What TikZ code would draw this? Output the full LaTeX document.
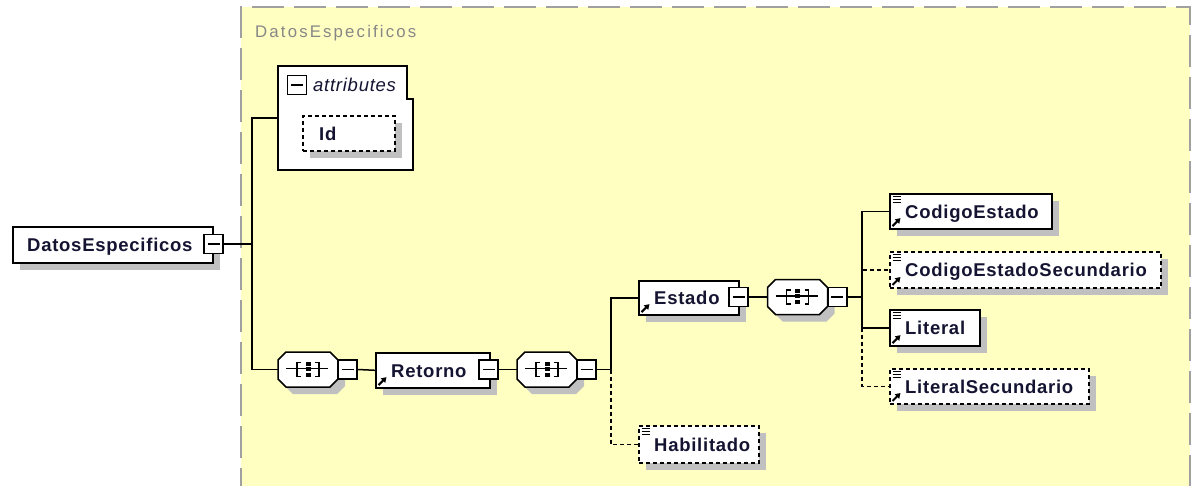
\documentclass[tikz,border=0pt]{standalone}
\usepackage{fontspec}
\setmainfont{Liberation Sans}
\newfontfamily\lblfont[LetterSpace=4]{Liberation Sans}
\newfontfamily\ttlfont[LetterSpace=12.8]{Liberation Sans}
\usetikzlibrary{shadows,arrows.meta,calc}
\definecolor{bgyellow}{RGB}{255,255,194}
\definecolor{shadowgray}{RGB}{192,192,192}
\definecolor{bordergray}{RGB}{160,160,160}
\definecolor{titlegray}{RGB}{135,135,135}
\definecolor{txt}{RGB}{20,20,50}
\tikzset{
  shad/.style={general shadow={fill=shadowgray, shadow xshift=7pt, shadow yshift=-7pt}},
  ebox/.style={draw, line width=1.6pt, fill=white, rectangle, inner sep=0pt, anchor=north west, shad},
  optbox/.style={ebox, line width=1.5pt, dash pattern=on 4pt off 3pt},
  lbl/.style={anchor=base west, inner sep=0pt, text=txt, font=\lblfont\bfseries\fontsize{18.5}{22}\selectfont},
  mnode/.style={draw, fill=white, line width=1.8pt, minimum size=19pt, inner sep=0pt,
    path picture={\draw[line width=1.5pt] ([xshift=3.5pt]path picture bounding box.west) -- ([xshift=-3.5pt]path picture bounding box.east);}},
  conn/.style={line width=1.5pt},
  dconn/.style={line width=1.5pt, dash pattern=on 4pt off 3pt},
  icn/.style={line width=1.2pt},
  licn/.style={line width=0.8pt},
}
\newcommand\octpath{(-30,-9.5) -- (-22,-17.5) -- (22,-17.5) -- (30,-9.5) -- (30,9.5) -- (22,17.5) -- (-22,17.5) -- (-30,9.5) -- cycle}
\newcommand\seqbox[4]{%
  \begin{scope}[shift={(#2,#3)}]
    \fill[shadowgray, shift={(7,7)}] \octpath;
    \filldraw[fill=white, line width=1.5pt] \octpath;
    \draw[icn] (-22,-1) -- (20,-1);
    \draw[icn] (-7,-7) -- (-11,-7) -- (-11,7) -- (-7,7);
    \draw[icn] (7,-7) -- (11,-7) -- (11,7) -- (7,7);
    \fill (-2.5,-8) rectangle (2.5,-4);
    \fill (-2.5,-3) rectangle (2.5,1);
    \fill (-2.5,3) rectangle (2.5,7);
  \end{scope}
  \node[minimum width=60pt, minimum height=35pt, inner sep=0pt] (#1) at (#2,#3) {};
  \node[mnode] (#4) at ($(#1.east)+(9.5,0)$) {};
}
\newcommand\listicon[1]{%
  \draw[licn] ($(#1.north west)+(3.5,3.5)$) -- ++(8,0);
  \draw[licn] ($(#1.north west)+(3.5,6.5)$) -- ++(8,0);
  \draw[licn] ($(#1.north west)+(3.5,9.5)$) -- ++(8,0);
}
\newcommand\refarrow[1]{%
  \draw[line width=2pt, -{Triangle[length=5pt,width=6pt]}] ($(#1.south west)+(3.5,-3.5)$) -- ++(8,-8);
}
\begin{document}
\begin{tikzpicture}[x=1pt,y=-1pt]
\useasboundingbox (0,0) rectangle (1191,485);
% region
\fill[bgyellow] (241,7) rectangle (1190,500);
\draw[bordergray, line width=1.8pt, dash pattern=on 32pt off 10pt] (241,500) -- (241,7) -- (1190,7) -- (1190,500);
\node[anchor=base west, inner sep=0pt, text=titlegray, font=\ttlfont\fontsize{16.8}{20}\selectfont] (title) at (255,37) {DatosEspecificos};

% attributes
\filldraw[fill=white, line width=1.6pt] (278,66) -- (407,66) -- (407,99) -- (413,99) -- (413,170) -- (278,170) -- cycle;
\coordinate (attrW) at (278,118);
\node[mnode] (attrminus) at (297,85) {};
\node[anchor=base west, inner sep=0pt, text=txt, font=\lblfont\itshape\fontsize{18.5}{22}\selectfont] (attrt) at (313,91) {attributes};
\node[optbox, minimum width=92pt, minimum height=35pt] (id) at (302,115) {};
\node[lbl] (idt) at ($(id.west)+(17,7)$) {Id};

% junctions
\coordinate (jA) at (252,118);
\coordinate (jB) at (252,369.5);
\coordinate (jR) at (252,244);
\coordinate (jC) at (611,369.5);
\coordinate (jD) at (862,297);

% root
\node[ebox, minimum width=200pt, minimum height=36pt] (root) at (12,226) {};
\node[lbl] (roott) at ($(root.west)+(15,7)$) {DatosEspecificos};
\node[mnode] (rminus) at (213.5,244) {};

% sequences and elements
\seqbox{seqA}{308}{369.5}{seqAm}
\node[ebox, minimum width=114pt, minimum height=35pt] (ret) at (375,352) {};
\node[lbl] (rett) at ($(ret.west)+(16,7)$) {Retorno};
\refarrow{ret}
\node[mnode] (retm) at (488.5,369.5) {};
\seqbox{seqB}{547}{369.5}{seqBm}

\node[ebox, minimum width=100pt, minimum height=34pt] (est) at (638,280) {};
\node[lbl] (estt) at ($(est.west)+(16,7)$) {Estado};
\refarrow{est}
\node[mnode] (estm) at (738.5,297) {};
\seqbox{seqC}{797.5}{297}{seqCm}

\node[optbox, minimum width=120pt, minimum height=37pt] (hab) at (638,425) {};
\node[lbl] (habt) at ($(hab.west)+(16,7)$) {Habilitado};
\listicon{hab}

\node[ebox, minimum width=162pt, minimum height=35pt] (ce) at (889,193) {};
\node[lbl] (cet) at ($(ce.west)+(16,7)$) {CodigoEstado};
\listicon{ce}\refarrow{ce}

\node[optbox, minimum width=271pt, minimum height=36pt] (ces) at (889,251) {};
\node[lbl] (cest) at ($(ces.west)+(16,7)$) {CodigoEstadoSecundario};
\listicon{ces}\refarrow{ces}

\node[ebox, minimum width=90pt, minimum height=36pt] (lit) at (889,309) {};
\node[lbl] (litt) at ($(lit.west)+(16,7)$) {Literal};
\listicon{lit}\refarrow{lit}

\node[optbox, minimum width=199pt, minimum height=35pt] (ls) at (889,368) {};
\node[lbl] (lst) at ($(ls.west)+(16,7)$) {LiteralSecundario};
\listicon{ls}\refarrow{ls}

% connectors
\draw[conn] (attrW) -- (jA) -- (jB) -- (seqA.west);
\draw[conn] (rminus.east) -- (jR);
\draw[conn] (seqAm.east) -- (ret.west);
\draw[conn] (retm.east) -- (seqB.west);
\draw[dconn] (jC) |- (hab.west);
\draw[conn] (seqBm.east) -- (jC) |- (est.west);
\draw[conn] (estm.east) -- (seqC.west);
\draw[dconn] (jD) |- (ces.west);
\draw[dconn] (lit.west -| jD) |- (ls.west);
\draw[conn] (seqCm.east) -- (jD);
\draw[conn] (jD) |- (ce.west);
\draw[conn] (jD) |- (lit.west);
\end{tikzpicture}
\end{document}
